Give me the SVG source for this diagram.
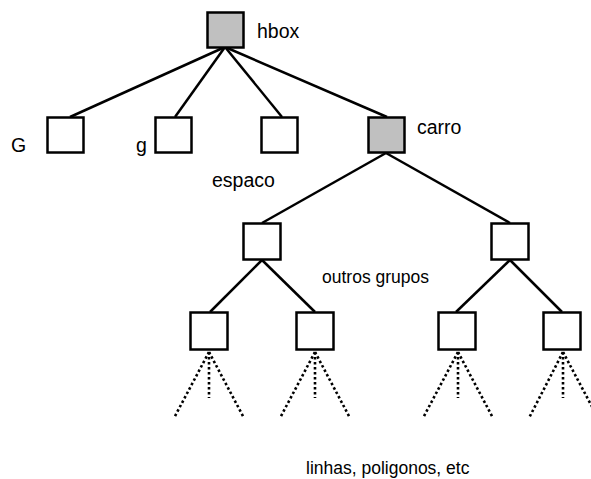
<svg xmlns="http://www.w3.org/2000/svg" width="591" height="479" viewBox="0 0 591 479">
  <style>
    .box { fill: #ffffff; stroke: #000000; stroke-width: 2.5; }
    .grp { fill: #c0c0c0; }
    .edge { stroke: #000000; stroke-width: 2.5; fill: none; }
    .leaf { stroke: #000000; stroke-width: 2.6; fill: none; stroke-dasharray: 2.5 2.5; }
    .lbl { font-family: "Liberation Sans", Arial, sans-serif; font-size: 19.5px; fill: #000000; }
    .small { font-size: 17.5px; }
  </style>
  <rect width="591" height="479" fill="#ffffff"/>

  <!-- connectors -->
  <g id="connectors">
    <!-- hbox children -->
    <line class="edge" x1="225" y1="47" x2="70" y2="117"/>
    <line class="edge" x1="225" y1="47" x2="175" y2="117"/>
    <line class="edge" x1="225" y1="47" x2="282" y2="117"/>
    <line class="edge" x1="225" y1="47" x2="387" y2="117"/>
    <!-- carro children -->
    <line class="edge" x1="386" y1="153" x2="262" y2="223"/>
    <line class="edge" x1="386" y1="153" x2="510" y2="223"/>
    <!-- group children -->
    <line class="edge" x1="262" y1="260" x2="210" y2="312"/>
    <line class="edge" x1="262" y1="260" x2="315" y2="312"/>
    <line class="edge" x1="510" y1="260" x2="456" y2="312"/>
    <line class="edge" x1="510" y1="260" x2="562" y2="312"/>
    <!-- primitives (dotted) -->
    <g>
      <line class="leaf" x1="209" y1="352" x2="174" y2="418"/>
      <line class="leaf" x1="209" y1="352" x2="209" y2="398"/>
      <line class="leaf" x1="209" y1="352" x2="244" y2="418"/>
      <line class="leaf" x1="315" y1="352" x2="280" y2="418"/>
      <line class="leaf" x1="315" y1="352" x2="315" y2="398"/>
      <line class="leaf" x1="315" y1="352" x2="350" y2="418"/>
      <line class="leaf" x1="458" y1="352" x2="423" y2="418"/>
      <line class="leaf" x1="458" y1="352" x2="458" y2="398"/>
      <line class="leaf" x1="458" y1="352" x2="493" y2="418"/>
      <line class="leaf" x1="563" y1="352" x2="529" y2="418"/>
      <line class="leaf" x1="563" y1="352" x2="563" y2="398"/>
      <line class="leaf" x1="563" y1="352" x2="598" y2="418"/>
    </g>
  </g>

  <!-- nodes -->
  <g id="hbox">
    <rect class="box grp" x="207.5" y="12.5" width="36" height="35"/>
    <text class="lbl" x="257" y="38">hbox</text>
  </g>
  <g id="G">
    <rect class="box" x="47.5" y="117.5" width="36" height="35"/>
    <text class="lbl" x="11" y="152">G</text>
  </g>
  <g id="g">
    <rect class="box" x="155.5" y="117.5" width="36" height="35"/>
    <text class="lbl" x="136" y="152">g</text>
  </g>
  <g id="espaco">
    <rect class="box" x="261.5" y="117.5" width="36" height="35"/>
    <text class="lbl" x="212" y="187">espaco</text>
  </g>
  <g id="carro">
    <rect class="box grp" x="368.5" y="117.5" width="36" height="35"/>
    <text class="lbl" x="417" y="134">carro</text>
  </g>
  <g id="grupo1">
    <rect class="box" x="243.5" y="223.5" width="37" height="36"/>
  </g>
  <g id="grupo2">
    <rect class="box" x="491.5" y="223.5" width="37" height="36"/>
  </g>
  <text class="lbl small" x="322" y="283">outros grupos</text>
  <g id="sub1">
    <rect class="box" x="190.5" y="312.5" width="37" height="37"/>
  </g>
  <g id="sub2">
    <rect class="box" x="296.5" y="312.5" width="37" height="37"/>
  </g>
  <g id="sub3">
    <rect class="box" x="438.5" y="312.5" width="37" height="37"/>
  </g>
  <g id="sub4">
    <rect class="box" x="543.5" y="312.5" width="37" height="37"/>
  </g>
  <text class="lbl small" x="306" y="474">linhas, poligonos, etc</text>
</svg>
